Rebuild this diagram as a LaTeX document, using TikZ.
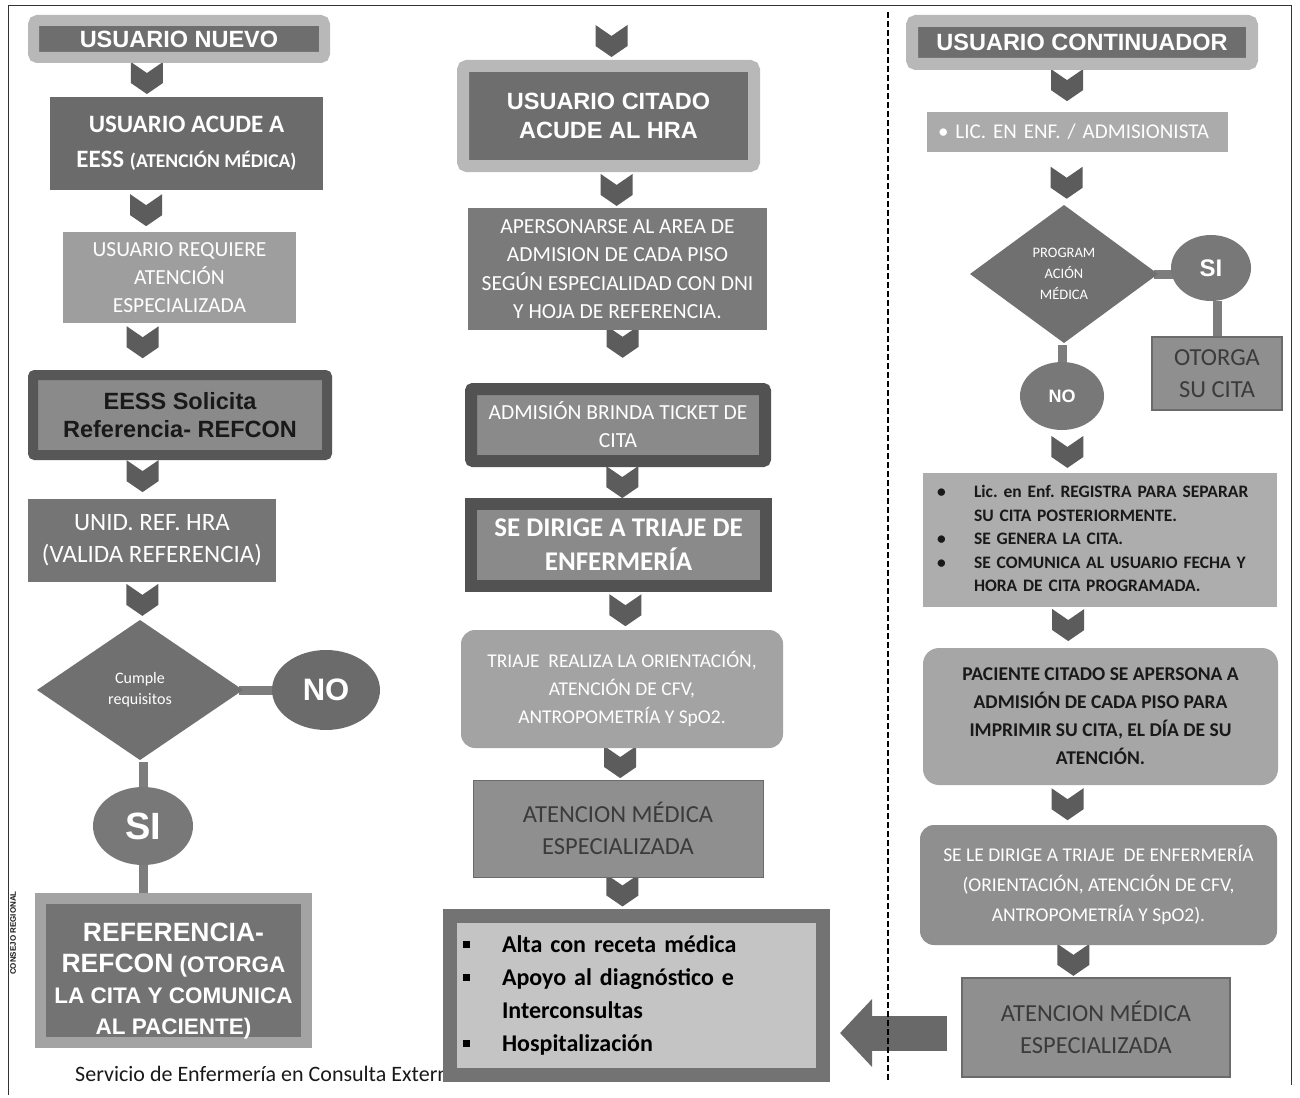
\documentclass[tikz,border=0pt]{standalone}
\usepackage{fontspec}
\setmainfont{Carlito}
\newfontfamily\arialf{Liberation Sans}
\usetikzlibrary{shapes.geometric,calc,arrows.meta}
\pgfdeclarelayer{paper}
\pgfdeclarelayer{bg}
\pgfsetlayers{paper,bg,main}
\definecolor{cChev}{gray}{0.36}
\definecolor{cBar}{gray}{0.49}
\definecolor{cDark}{gray}{0.43}
\definecolor{cHdrOut}{gray}{0.72}
\definecolor{cAcude}{gray}{0.42}
\definecolor{cReq}{gray}{0.62}
\definecolor{cSolOut}{gray}{0.34}
\definecolor{cSolIn}{gray}{0.54}
\definecolor{cUnid}{gray}{0.46}
\definecolor{cDia}{gray}{0.44}
\definecolor{cNo}{gray}{0.42}
\definecolor{cSi}{gray}{0.47}
\definecolor{cRefOut}{gray}{0.64}
\definecolor{cRefIn}{gray}{0.45}
\definecolor{cApers}{gray}{0.48}
\definecolor{cTkOut}{gray}{0.32}
\definecolor{cTkIn}{gray}{0.54}
\definecolor{cTri}{gray}{0.64}
\definecolor{cAtm}{gray}{0.56}
\definecolor{cAtmLine}{gray}{0.42}
\definecolor{cAtmTxt}{gray}{0.23}
\definecolor{cListOut}{gray}{0.45}
\definecolor{cListIn}{gray}{0.77}
\definecolor{cLic}{gray}{0.67}
\definecolor{cReg}{gray}{0.68}
\definecolor{cPac}{gray}{0.65}
\definecolor{cArrow}{gray}{0.41}
\definecolor{cInk}{gray}{0.1}
\definecolor{cFrame}{gray}{0.2}
\frenchspacing
\newcommand\chv[4]{\pic at ($(#1.south)!#3!(#2.north)+(#4,0)$) {chev};}
\newcommand\sqbul{\rule[4pt]{7pt}{7pt}}
\tikzset{
  chev/.pic={\fill[cChev] (-16,-16) -- (0,-5) -- (16,-16) -- (16,5) -- (0,16) -- (-16,5) -- cycle;},
  bx/.style={rectangle, inner sep=0pt, outer sep=0pt, align=center, text=white},
  dbl/.style 2 args={bx, draw=#1, fill=#2},
  bar/.style={draw=cBar, line width=9pt},
  hdr/.style={font=\arialf\bfseries\fontsize{23.5}{29}\selectfont},
  oval/.style={ellipse, inner sep=0pt, outer sep=0pt, text=white},
}
\begin{document}
\begin{tikzpicture}[x=1pt,y=-1pt]
\useasboundingbox (0,0) rectangle (1300,1097);
\begin{pgfonlayer}{paper}
\fill[white] (0,0) rectangle (1300,1097);
\end{pgfonlayer}

% frame
\draw[line width=0.8pt, cFrame] (8,1095) -- (8,5) -- (1291,5) -- (1291,1085);
\node[rotate=90, font=\arialf\bfseries\fontsize{8}{8}\selectfont, text=cInk] (stamp) at (13,933) {CONSEJO REGIONAL};

% footer
\node[anchor=base west, text=cInk, inner sep=0pt, font=\fontsize{22}{26}\selectfont] (foot) at (75,1081) {Servicio de Enfermería en Consulta Extern};

% ---------------- left column
\node[dbl={cHdrOut}{cDark}, line width=11pt, rounded corners=4pt, minimum width=291pt, minimum height=37pt, hdr] (un) at (179,39) {USUARIO NUEVO};
\node[bx, fill=cAcude, minimum width=273pt, minimum height=93pt, font=\bfseries\fontsize{25}{35}\selectfont] (acude) at (186.5,143.5) {USUARIO ACUDE A\\EESS {\fontsize{19.5}{35}\selectfont(ATENCIÓN MÉDICA)}};
\node[bx, fill=cReq, minimum width=233pt, minimum height=91pt, font=\fontsize{21.5}{28}\selectfont] (requiere) at (179.5,277.5) {USUARIO REQUIERE\\ATENCIÓN\\ESPECIALIZADA};
\node[dbl={cSolOut}{cSolIn}, line width=10pt, rounded corners=2pt, minimum width=294pt, minimum height=80pt, text=cInk, font=\arialf\bfseries\fontsize{23.5}{28}\selectfont] (solicita) at (180,415) {EESS Solicita\\Referencia- REFCON};
\node[bx, fill=cUnid, minimum width=248pt, minimum height=83pt, font=\fontsize{25}{32}\selectfont] (unid) at (152,540.5) {UNID. REF. HRA\\(VALIDA REFERENCIA)};
\node[diamond, fill=cDia, inner sep=0pt, outer sep=0pt, minimum width=206pt, minimum height=140pt, text=white, align=center, font=\fontsize{16}{21}\selectfont] (cumple) at (140,690) {Cumple\\requisitos};
\node[oval, fill=cNo, minimum width=108pt, minimum height=80pt, font=\arialf\bfseries\fontsize{31}{31}\selectfont] (no1) at (326,690) {NO};
\node[oval, fill=cSi, minimum width=100pt, minimum height=78pt, font=\arialf\bfseries\fontsize{38}{38}\selectfont] (si1) at (143,826) {SI};
\node[dbl={cRefOut}{cRefIn}, line width=11pt, minimum width=266pt, minimum height=144pt, font=\arialf\bfseries\fontsize{22.5}{31}\selectfont] (ref) at (173.5,970.5) {\rule{0pt}{40pt}{\fontsize{26.5}{31}\selectfont REFERENCIA-}\\{\fontsize{26.5}{31}\selectfont REFCON} (OTORGA\\LA CITA Y COMUNICA\\AL PACIENTE)};

% ---------------- middle column
\node[dbl={cHdrOut}{cDark}, line width=12pt, rounded corners=4pt, minimum width=291pt, minimum height=100pt, hdr] (citado) at (608.5,116) {USUARIO CITADO\\ACUDE AL HRA};
\node[bx, fill=cApers, minimum width=299pt, minimum height=122pt, font=\fontsize{21.5}{28.5}\selectfont] (apers) at (617.5,269) {APERSONARSE AL AREA DE\\ADMISION DE CADA PISO\\SEGÚN ESPECIALIDAD CON DNI\\Y HOJA DE REFERENCIA.};
\node[dbl={cTkOut}{cTkIn}, line width=12pt, rounded corners=2pt, minimum width=294pt, minimum height=72pt, font=\fontsize{21.5}{28}\selectfont] (ticket) at (618,425) {ADMISIÓN BRINDA TICKET DE\\CITA};
\node[dbl={cTkOut}{cTkIn}, line width=12pt, minimum width=295pt, minimum height=82pt, font=\bfseries\fontsize{27}{34}\selectfont] (triaje) at (618.5,545) {SE DIRIGE A TRIAJE DE\\ENFERMERÍA};
\node[bx, fill=cTri, rounded corners=14pt, minimum width=322pt, minimum height=118pt, font=\fontsize{19.5}{28}\selectfont] (tri2) at (622,689) {TRIAJE\ \ REALIZA LA ORIENTACIÓN,\\ATENCIÓN DE CFV,\\ANTROPOMETRÍA Y SpO2.};
\node[bx, fill=cAtm, draw=cAtmLine, line width=1pt, minimum width=290pt, minimum height=97pt, text=cAtmTxt, font=\fontsize{24.5}{32}\selectfont] (atm) at (618,828.5) {ATENCION MÉDICA\\ESPECIALIZADA};
\node[dbl={cListOut}{cListIn}, line width=14pt, minimum width=373pt, minimum height=159pt, text=black, align=left, text width=347pt, font=\bfseries\fontsize{24}{33}\selectfont] (list) at (636.5,995) {\begin{tabular}{@{}l@{\hspace{32pt}}l@{}}\sqbul & Alta con receta médica\\ \sqbul & Apoyo al diagnóstico e\\ & Interconsultas\\ \sqbul & Hospitalización\end{tabular}};

% ---------------- right column
\node[dbl={cHdrOut}{cDark}, line width=12pt, rounded corners=4pt, minimum width=340pt, minimum height=43pt, hdr] (uc) at (1082,42.5) {USUARIO CONTINUADOR};
\node[bx, fill=cLic, minimum width=301pt, minimum height=40pt, align=left, text width=279pt, font=\fontsize{21}{24}\selectfont] (lic) at (1077.5,132) {• LIC. EN ENF. / ADMISIONISTA};
\node[diamond, fill=cDia, inner sep=0pt, outer sep=0pt, minimum width=188pt, minimum height=138pt, text=white, align=center, font=\fontsize{14.5}{21}\selectfont] (prog) at (1064,274) {PROGRAM\\ACIÓN\\MÉDICA};
\node[oval, fill=cSi, minimum width=80pt, minimum height=66pt, font=\arialf\bfseries\fontsize{24}{24}\selectfont] (si2) at (1211,268) {SI};
\node[bx, fill=cAtm, draw=cAtmLine, line width=1.2pt, minimum width=130pt, minimum height=73pt, text=cAtmTxt, font=\fontsize{24.5}{32}\selectfont] (otorga) at (1217,373.5) {OTORGA\\SU CITA};
\node[oval, fill=cSi, minimum width=84pt, minimum height=68pt, font=\arialf\bfseries\fontsize{18}{18}\selectfont] (no2) at (1062,396) {NO};
\node[bx, fill=cReg, minimum width=354pt, minimum height=134pt, text=cInk, align=left, text width=326pt, font=\bfseries\fontsize{17.5}{23.5}\selectfont] (reg) at (1100,540) {\begin{tabular}{@{}p{37pt}@{}l@{}}• & Lic. en Enf. REGISTRA PARA SEPARAR\\ & SU CITA POSTERIORMENTE.\\ • & SE GENERA LA CITA.\\ • & SE COMUNICA AL USUARIO FECHA Y\\ & HORA DE CITA PROGRAMADA.\end{tabular}};
\node[bx, fill=cPac, rounded corners=16pt, minimum width=355pt, minimum height=137pt, text=cInk, font=\bfseries\fontsize{19.5}{28}\selectfont] (pac) at (1100.5,716.5) {PACIENTE CITADO SE APERSONA A\\ADMISIÓN DE CADA PISO PARA\\IMPRIMIR SU CITA, EL DÍA DE SU\\ATENCIÓN.};
\node[bx, fill=cAtm, rounded corners=14pt, minimum width=357pt, minimum height=120pt, font=\fontsize{19.5}{30}\selectfont] (sele) at (1098.5,885) {SE LE DIRIGE A TRIAJE\ \ DE ENFERMERÍA\\(ORIENTACIÓN, ATENCIÓN DE CFV,\\ANTROPOMETRÍA Y SpO2).};
\node[bx, fill=cAtm, draw=cAtmLine, line width=1.2pt, minimum width=268pt, minimum height=99pt, text=cAtmTxt, font=\fontsize{24.5}{32}\selectfont] (atm2) at (1096,1027.5) {ATENCION MÉDICA\\ESPECIALIZADA};

% big arrow
\coordinate (arrS) at ($(atm2.west)+(-15,5.5)$);
\coordinate (arrE) at ($(list.east |- arrS)+(17,0)$);
\draw[draw=cArrow, line width=35pt, -{Triangle[length=32pt,width=66pt]}] (arrS) -- (arrE);

% dashed separator
\draw[line width=1.6pt, dash pattern=on 6pt off 3pt, black] (888,12) -- (888,1082);

% ---------------- connectors behind
\begin{pgfonlayer}{bg}
\chv{un}{acude}{0.52}{-36}
\chv{acude}{requiere}{0.48}{-37}
\chv{requiere}{solicita}{0.37}{-37}
\chv{solicita}{unid}{0.48}{-24}
\chv{unid}{cumple}{0.47}{-4}
\pic at ($(citado.north)+(3,-25)$) {chev};
\chv{citado}{apers}{0.57}{3}
\chv{apers}{ticket}{0.2}{5}
\chv{ticket}{triaje}{0.49}{4}
\chv{triaje}{tri2}{0.55}{5}
\chv{tri2}{atm}{0.44}{0}
\chv{atm}{list}{0.35}{-2}
\chv{uc}{lic}{0.44}{-13}
\chv{lic}{prog}{0.58}{-3}
\chv{no2}{reg}{0.51}{-14}
\chv{reg}{pac}{0.44}{-32}
\chv{pac}{sele}{0.48}{-32}
\chv{sele}{atm2}{0.45}{-24}
\draw[bar, shorten <=-4pt, shorten >=-4pt] (cumple.east) -- (no1.west);
\draw[bar] (si1.north) -- ($(si1.north |- cumple.south)+(0,2)$);
\draw[bar] (si1.south) -- (si1.south |- ref.north);
\draw[bar, shorten <=-4pt, shorten >=-6pt] (prog.east) -- (prog.east -| si2.west);
\draw[bar] (otorga.north) -- (otorga.north |- si2.south);
\draw[bar] (no2.north) -- ($(no2.north |- prog.south)+(0,2)$);
\end{pgfonlayer}
\end{tikzpicture}
\end{document}
